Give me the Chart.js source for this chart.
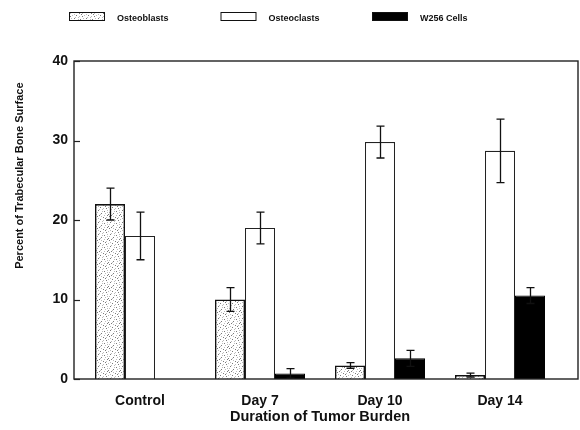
<!DOCTYPE html>
<html>
<head>
<meta charset="utf-8">
<script src="https://cdn.jsdelivr.net/npm/chart.js@4.4.1/dist/chart.umd.min.js"></script>
<style>
  html, body { margin: 0; padding: 0; background: #ffffff; }
  #wrap { width: 580px; height: 430px; }
</style>
</head>
<body>
<div id="wrap"><canvas id="c" width="580" height="430"></canvas></div>
<script>
// ---- Data ----
const categories = ['Control', 'Day 7', 'Day 10', 'Day 14'];
const seriesNames = ['Osteoblasts', 'Osteoclasts', 'W256 Cells'];
const osteoblasts    = [22.0, 10.0, 1.7, 0.5];
const osteoblastErr  = [2.0, 1.5, 0.35, 0.25];
const osteoclasts    = [18.0, 19.0, 29.8, 28.7];
const osteoclastErr  = [3.0, 2.0, 2.0, 4.0];
const w256Cells      = [null, 0.7, 2.6, 10.5];
const w256Err        = [null, 0.6, 1.0, 1.0];
const yTicks = [0, 10, 20, 30, 40];

const FONT = "'Liberation Sans', Arial, Helvetica, sans-serif";

// stipple texture for osteoblast bars (fixed dot layout)
function makeStipple() {
  const t = document.createElement('canvas');
  t.width = 12; t.height = 12;
  const g = t.getContext('2d');
  g.fillStyle = '#ffffff'; g.fillRect(0, 0, 12, 12);
  const dark = [[1,0],[7,1],[4,3],[10,4],[2,6],[8,7],[5,9],[0,10],[11,11],[3,11],[9,2]];
  const mid  = [[5,0],[10,1],[0,3],[7,4],[3,5],[11,6],[6,7],[1,8],[9,9],[4,10],[8,11],[2,2],[6,5],[11,8]];
  g.fillStyle = '#7a7a7a'; dark.forEach(p => g.fillRect(p[0], p[1], 1, 1));
  g.fillStyle = '#bdbdbd'; mid.forEach(p => g.fillRect(p[0], p[1], 1, 1));
  return g.createPattern(t, 'repeat');
}
const ctx = document.getElementById('c').getContext('2d');
const stipple = makeStipple();

const errorBars = {
  id: 'errorBars',
  afterDatasetsDraw(chart) {
    const c = chart.ctx, ys = chart.scales.y;
    c.save();
    c.strokeStyle = '#111';
    c.lineWidth = 1.3;
    chart.data.datasets.forEach((ds, i) => {
      const meta = chart.getDatasetMeta(i);
      meta.data.forEach((bar, j) => {
        const v = ds.data[j], e = ds.errors[j];
        if (v == null || e == null) return;
        const yt = ys.getPixelForValue(v + e);
        const yb = ys.getPixelForValue(Math.max(0, v - e));
        const x = Math.round(bar.x) + 0.5;
        c.beginPath();
        c.moveTo(x, yt); c.lineTo(x, yb);
        c.moveTo(x - 4, yt); c.lineTo(x + 4, yt);
        c.moveTo(x - 4, yb); c.lineTo(x + 4, yb);
        c.stroke();
      });
    });
    c.restore();
  }
};

const frame = {
  id: 'frame',
  afterDatasetsDraw(chart) {
    const c = chart.ctx, a = chart.chartArea, ys = chart.scales.y;
    const L = a.left - 6, R = a.right + 18;
    c.save();
    c.strokeStyle = '#222';
    c.lineWidth = 1.4;
    c.strokeRect(L, a.top, R - L, a.bottom - a.top);
    c.lineWidth = 1.2;
    yTicks.forEach(t => {
      const y = Math.round(ys.getPixelForValue(t)) + 0.5;
      c.beginPath(); c.moveTo(L, y); c.lineTo(L + 6, y); c.stroke();
    });
    c.restore();
  }
};

const topLegend = {
  id: 'topLegend',
  afterDraw(chart) {
    const c = chart.ctx;
    c.save();
    c.font = 'bold 9px ' + FONT;
    c.textBaseline = 'middle';
    const start = 69, step = 151.5, boxW = 35, boxH = 8, boxY = 12;
    chart.data.datasets.forEach((ds, i) => {
      const x = start + i * step;
      c.fillStyle = ds.backgroundColor;
      c.fillRect(x, boxY, boxW, boxH);
      c.strokeStyle = '#111';
      c.lineWidth = 1;
      c.strokeRect(x + 0.5, boxY + 0.5, boxW, boxH);
      c.fillStyle = '#111';
      c.fillText(ds.label, x + boxW + 13, boxY + 6.5);
    });
    c.restore();
  }
};

new Chart(ctx, {
  type: 'bar',
  data: {
    labels: categories,
    datasets: [
      { label: seriesNames[0], data: osteoblasts, errors: osteoblastErr,
        backgroundColor: stipple, borderColor: '#111', borderWidth: 1.6 },
      { label: seriesNames[1], data: osteoclasts, errors: osteoclastErr,
        backgroundColor: '#ffffff', borderColor: '#222', borderWidth: 1.1 },
      { label: seriesNames[2], data: w256Cells, errors: w256Err,
        backgroundColor: '#000000', borderColor: '#000', borderWidth: 1 }
    ]
  },
  options: {
    responsive: false,
    animation: false,
    events: [],
    layout: { padding: { top: 61, right: 20, left: 0, bottom: 0 } },
    datasets: { bar: { categoryPercentage: 0.75, barPercentage: 1.0 } },
    plugins: { legend: { display: false }, tooltip: { enabled: false } },
    scales: {
      x: {
        grid: { display: false, drawTicks: false },
        border: { display: false },
        ticks: { color: '#111', padding: 14, font: { family: FONT, size: 14, weight: 'bold' } },
        title: { display: true, text: 'Duration of Tumor Burden', color: '#111',
                 padding: { top: 0, bottom: 4 },
                 font: { family: FONT, size: 14.5, weight: 'bold' } },
        afterFit(s) { s.height = 51; }
      },
      y: {
        min: 0, max: 40,
        grid: { display: false, drawTicks: false },
        border: { display: false },
        ticks: { stepSize: 10, color: '#111', padding: 12,
                 font: { family: FONT, size: 14, weight: 'bold' } },
        title: { display: true, text: 'Percent of Trabecular Bone Surface\u00a0\u00a0\u00a0\u00a0\u00a0\u00a0\u00a0', color: '#111',
                 align: 'end', padding: { top: 13, bottom: 0 },
                 font: { family: FONT, size: 11, weight: 'bold' } },
        afterFit(s) { s.width = 80; }
      }
    }
  },
  plugins: [errorBars, frame, topLegend]
});
</script>
</body>
</html>
